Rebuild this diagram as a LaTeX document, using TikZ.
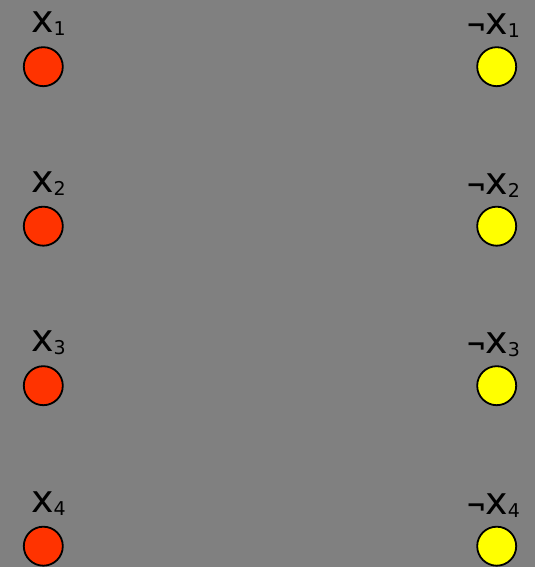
\documentclass[tikz,border=0pt]{standalone}
\usepackage{fontspec}
\setmainfont{DejaVu Sans}
\definecolor{bg}{RGB}{128,128,128}
\definecolor{redc}{RGB}{255,51,0}
\definecolor{yelc}{RGB}{255,255,0}
\newcommand{\lsub}[1]{\raisebox{-3pt}{\fontsize{19}{19}\selectfont #1}}
\newcommand{\lneg}{{\fontsize{24}{24}\selectfont\bfseries ¬}}
\tikzset{
  litnode/.style={circle, draw=black, line width=1.8pt, minimum size=39pt, inner sep=0pt},
  posnode/.style={litnode, fill=redc},
  negnode/.style={litnode, fill=yelc},
  lbl/.style={inner sep=0pt, anchor=base west, font=\fontsize{38}{38}\selectfont}
}
\begin{document}
\begin{tikzpicture}[x=1pt,y=1pt]
\fill[bg] (0,0) rectangle (535,567);
\useasboundingbox (0,0) rectangle (535,567);
\foreach \i/\y in {1/66.7, 2/226.2, 3/385.7, 4/546.2} {
  \node[posnode] (p\i) at (43.3, 567-\y) {};
  \node[negnode] (n\i) at (496.7, 567-\y) {};
  \node[lbl] (pl\i) at (31, 567-\y+33.7) {x\lsub{\i}};
  \node[lbl] (nl\i) at (466, 567-\y+31.7) {\lneg\kern-1pt x\lsub{\i}};
}
\end{tikzpicture}
\end{document}
